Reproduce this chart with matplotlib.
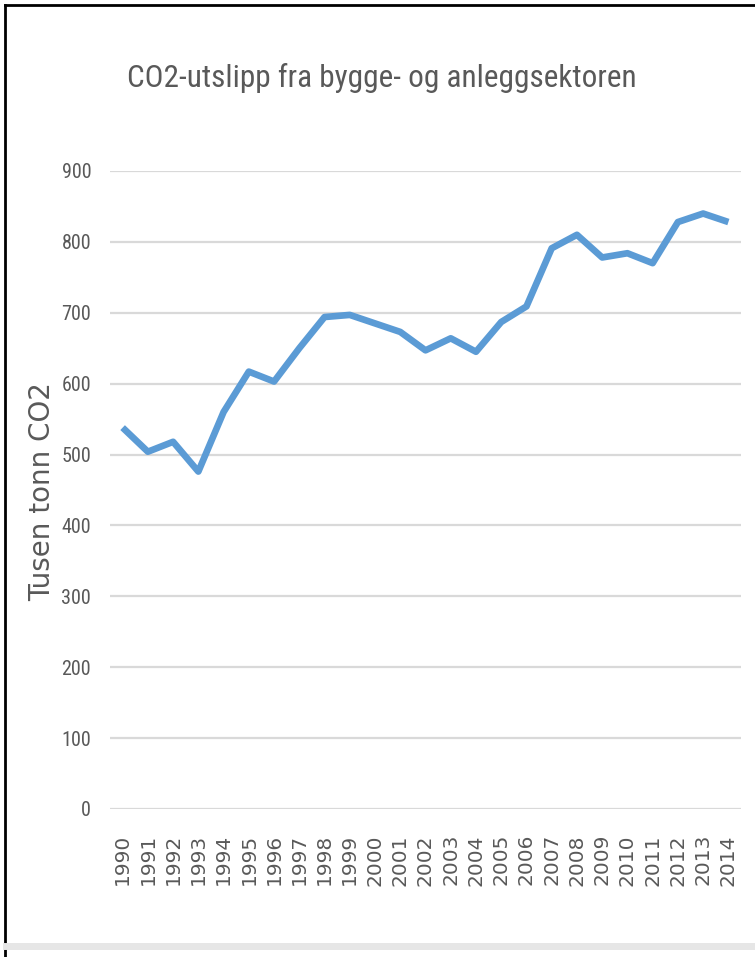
import matplotlib
matplotlib.use("Agg")
import matplotlib.pyplot as plt
from matplotlib.lines import Line2D

# --- Data ---
years = [str(y) for y in range(1990, 2015)]
utslipp = [538, 504, 518, 476, 560, 617, 603, 650, 694, 697, 685, 673, 647,
           664, 645, 687, 709, 791, 810, 778, 784, 770, 828, 840, 828]
yticks = [0, 100, 200, 300, 400, 500, 600, 700, 800, 900]

GREY = "#595959"
BLUE = "#5b9bd5"
NARROW = ["Roboto Condensed", "Liberation Sans Narrow", "Roboto"]

W, H = 755, 957
fig = plt.figure(figsize=(W / 100, H / 100), dpi=100)

# --- Plot area ---
ax = fig.add_axes([110 / W, 1 - 809 / H, (741 - 110) / W, (809 - 171) / H])
x = list(range(len(years)))
ax.plot(x, utslipp, color=BLUE, linewidth=4.8, solid_joinstyle="round",
        solid_capstyle="butt", zorder=3)
ax.set_xlim(-0.5, len(years) - 0.5)
ax.set_ylim(0, 900)
ax.set_yticks(yticks)
ax.set_yticklabels([str(v) for v in yticks], family=NARROW, fontsize=14.5, color=GREY)
ax.set_xticks(x)
ax.set_xticklabels(years, rotation=90, family="DejaVu Sans", fontsize=14.5,
                   color=GREY, va="top")
ax.tick_params(axis="x", length=0, pad=18)
ax.tick_params(axis="y", length=0, pad=13.5)
for s in ax.spines.values():
    s.set_visible(False)
ax.grid(axis="y", color="#d9d9d9", linewidth=1.6, zorder=0)
ax.set_axisbelow(True)

ax.set_ylabel("Tusen tonn CO2", family="DejaVu Sans", fontsize=20, color=GREY)
ax.yaxis.set_label_coords((56 - 110) / (741 - 110), 0.4976)

# --- Title ---
fig.text(382 / W, 1 - 78 / H, "CO2-utslipp fra bygge- og anleggsektoren",
         ha="center", va="center", family=NARROW, fontsize=22.5, color=GREY)

# --- Frame lines ---
fig.add_artist(Line2D([5 / W, 5 / W], [0, 1 - 5 / H], transform=fig.transFigure,
                      color="black", linewidth=2))
fig.add_artist(Line2D([5 / W, 1], [1 - 5 / H, 1 - 5 / H], transform=fig.transFigure,
                      color="black", linewidth=2))
fig.add_artist(Line2D([6 / W, 1], [1 - 946 / H, 1 - 946 / H], transform=fig.transFigure,
                      color="#e6e6e6", linewidth=5))

fig.savefig("out.png", dpi=100)
